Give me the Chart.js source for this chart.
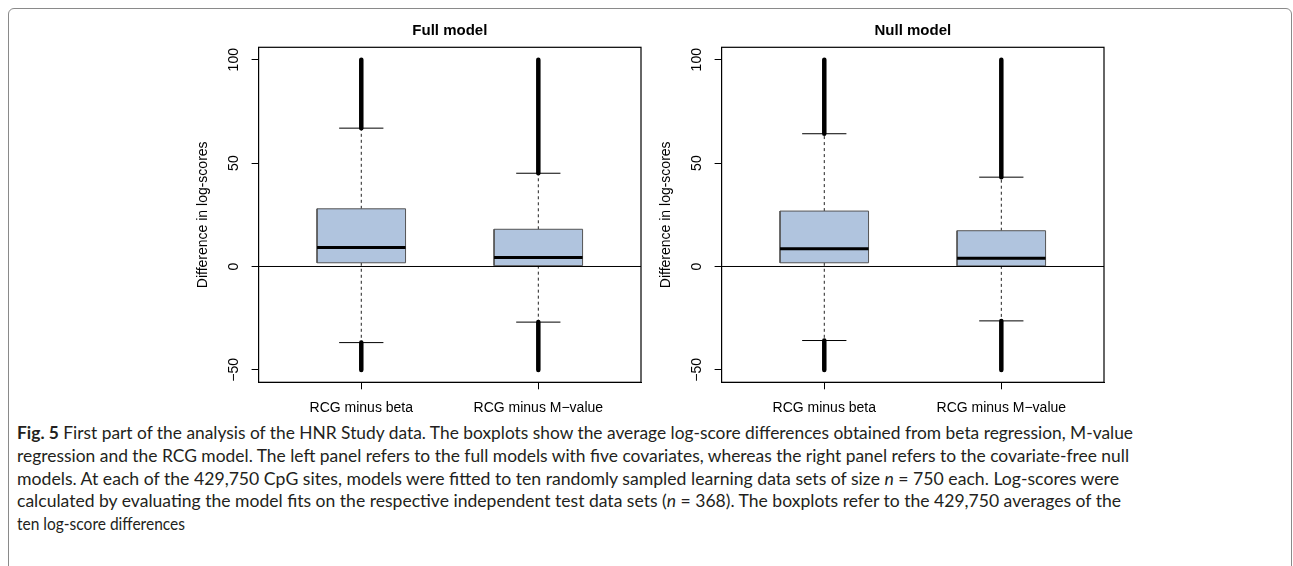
<!DOCTYPE html>
<html>
<head>
<meta charset="utf-8">
<script src="https://cdn.jsdelivr.net/npm/chart.js@4.4.1/dist/chart.umd.min.js"></script>
<style>
  html, body { margin: 0; padding: 0; background: #fff; }
  body { width: 1293px; height: 566px; position: relative; overflow: hidden; }
  #frame {
    position: absolute; left: 8px; top: 8px; width: 1284px; height: 700px;
    box-sizing: border-box; border: 1.5px solid #8a8a8a; border-radius: 6px;
  }
  canvas { position: absolute; top: 10px; }
  #fullChart { left: 180px; }
  #nullChart { left: 642.7px; }
  #caption {
    position: absolute; left: 17px; top: 422px;
    font-family: Lato, "Open Sans", sans-serif; font-size: 16.5px; line-height: 22.75px; color: #231f20;
  }
  #caption .line { display: block; white-space: nowrap; }
  #caption .line span { display: inline-block; transform-origin: 0 0; }
</style>
</head>
<body>
<div id="frame"></div>
<canvas id="fullChart" width="470" height="410"></canvas>
<canvas id="nullChart" width="470" height="410"></canvas>
<div id="caption">
  <div class="line"><span><b>Fig. 5</b> First part of the analysis of the HNR Study data. The boxplots show the average log-score differences obtained from beta regression, M-value</span></div>
  <div class="line"><span>regression and the RCG model. The left panel refers to the full models with five covariates, whereas the right panel refers to the covariate-free null</span></div>
  <div class="line"><span>models. At each of the 429,750 CpG sites, models were fitted to ten randomly sampled learning data sets of size <i>n</i> = 750 each. Log-scores were</span></div>
  <div class="line"><span>calculated by evaluating the model fits on the respective independent test data sets (<i>n</i> = 368). The boxplots refer to the 429,750 averages of the</span></div>
  <div class="line"><span>ten log-score differences</span></div>
</div>
<script>
// categories et graduations
const categories = ['RCG minus beta', 'RCG minus M\u2212value'];
const yTicks = [-50, 0, 50, 100];

// Full model
const fullMin = [-50, -50];
const fullLowerWhisker = [-36.8, -26.9];
const fullQ1 = [1.8, 0.4];
const fullMedian = [9.2, 4.4];
const fullQ3 = [27.9, 18.0];
const fullUpperWhisker = [66.9, 45.1];
const fullMax = [100, 100];

// Null model
const nullMin = [-50, -50];
const nullLowerWhisker = [-35.8, -26.3];
const nullQ1 = [1.8, 0.3];
const nullMedian = [8.6, 4.0];
const nullQ3 = [26.8, 17.3];
const nullUpperWhisker = [64.2, 43.2];
const nullMax = [100, 100];

const BOX_HALF = 0.25;
const CAP_HALF = 0.125;
const X_MIN = 0.42, X_MAX = 2.58;
const Y_MIN = -56, Y_MAX = 106;
const FONT = 'Liberation Sans, Arial, sans-serif';

Chart.defaults.color = '#000';

function seg(x1, y1, x2, y2) {
    return [{x: x1, y: y1}, {x: x2, y: y2}];
}

function line(data, extra) {
    return Object.assign({
        data: data,
        showLine: true,
        pointRadius: 0,
        borderColor: '#000',
        borderWidth: 1,
        fill: false,
        tension: 0
    }, extra || {});
}

// Construire les datasets d'un panneau (du fond vers le dessus)
function buildDatasets(p) {
    const ds = [];
    categories.forEach((c, i) => {
        const x = i + 1;
        ds.push(line(seg(x, p.q3[i], x, p.hiW[i]), {borderDash: [3, 3], borderColor: '#222'}));
        ds.push(line(seg(x, p.q1[i], x, p.loW[i]), {borderDash: [3, 3], borderColor: '#222'}));
        ds.push(line(seg(x, p.hiW[i], x, p.max[i]), {borderWidth: 4.5, borderCapStyle: 'round'}));
        ds.push(line(seg(x, p.loW[i], x, p.min[i]), {borderWidth: 4.5, borderCapStyle: 'round'}));
        ds.push(line(seg(x - CAP_HALF, p.hiW[i], x + CAP_HALF, p.hiW[i])));
        ds.push(line(seg(x - CAP_HALF, p.loW[i], x + CAP_HALF, p.loW[i])));
        ds.push(line([
            {x: x - BOX_HALF, y: p.q1[i]},
            {x: x + BOX_HALF, y: p.q1[i]},
            {x: x + BOX_HALF, y: p.q3[i]},
            {x: x - BOX_HALF, y: p.q3[i]},
            {x: x - BOX_HALF, y: p.q1[i]}
        ], {fill: 'shape', backgroundColor: '#b0c4de', borderColor: '#555'}));
        ds.push(line(seg(x - BOX_HALF, p.med[i], x + BOX_HALF, p.med[i]), {borderWidth: 3}));
    });
    ds.push(line(seg(X_MIN, 0, X_MAX, 0)));
    // le premier dataset est dessiné au-dessus
    return ds.reverse();
}

const plotBox = {
    id: 'plotBox',
    afterDatasetsDraw(chart) {
        const a = chart.chartArea;
        const ctx = chart.ctx;
        ctx.save();
        ctx.strokeStyle = '#000';
        ctx.lineWidth = 1.2;
        ctx.strokeRect(a.left, a.top, a.right - a.left, a.bottom - a.top);
        ctx.restore();
    }
};

function makeChart(id, title, p) {
    return new Chart(document.getElementById(id), {
        type: 'scatter',
        data: {datasets: buildDatasets(p)},
        options: {
            responsive: false,
            animation: false,
            layout: {padding: {left: 0, right: 9, top: 0, bottom: 0}},
            plugins: {
                legend: {display: false},
                tooltip: {enabled: false},
                title: {
                    display: true,
                    text: title,
                    fullSize: false,
                    color: '#000',
                    font: {family: FONT, size: 15, weight: 'bold'},
                    padding: {top: 12, bottom: 7.3}
                }
            },
            scales: {
                x: {
                    type: 'linear',
                    min: X_MIN,
                    max: X_MAX,
                    afterBuildTicks: s => { s.ticks = categories.map((c, i) => ({value: i + 1})); },
                    afterFit: s => { s.height = 37.7; },
                    ticks: {
                        callback: v => categories[v - 1],
                        autoSkip: false,
                        maxRotation: 0,
                        padding: 10,
                        color: '#000',
                        font: {family: FONT, size: 14}
                    },
                    grid: {drawOnChartArea: false, drawTicks: true, tickLength: 7, color: '#000'},
                    border: {display: true, color: '#000'}
                },
                y: {
                    min: Y_MIN,
                    max: Y_MAX,
                    afterBuildTicks: s => { s.ticks = yTicks.map(v => ({value: v})); },
                    afterFit: s => { s.width = 78.6; },
                    ticks: {
                        callback: v => String(v).replace('-', '\u2212'),
                        minRotation: 90,
                        maxRotation: 90,
                        crossAlign: 'center',
                        padding: 6,
                        color: '#000',
                        font: {family: FONT, size: 14}
                    },
                    title: {
                        display: true,
                        text: 'Difference in log-scores',
                        color: '#000',
                        font: {family: FONT, size: 14},
                        padding: {top: 14.3, bottom: 0}
                    },
                    grid: {drawOnChartArea: false, drawTicks: true, tickLength: 7, color: '#000'},
                    border: {display: true, color: '#000'}
                }
            }
        },
        plugins: [plotBox]
    });
}

makeChart('fullChart', 'Full model', {
    min: fullMin, loW: fullLowerWhisker, q1: fullQ1, med: fullMedian,
    q3: fullQ3, hiW: fullUpperWhisker, max: fullMax
});
makeChart('nullChart', 'Null model', {
    min: nullMin, loW: nullLowerWhisker, q1: nullQ1, med: nullMedian,
    q3: nullQ3, hiW: nullUpperWhisker, max: nullMax
});

// Ajuster la largeur des lignes de la légende
const captionRight = [1133, 1129, 1119, 1121, 185];
document.querySelectorAll('#caption .line span').forEach((el, i) => {
    const w = el.getBoundingClientRect().width;
    const target = captionRight[i] - 17;
    el.style.transform = 'scaleX(' + (target / w) + ')';
});
</script>
</body>
</html>
